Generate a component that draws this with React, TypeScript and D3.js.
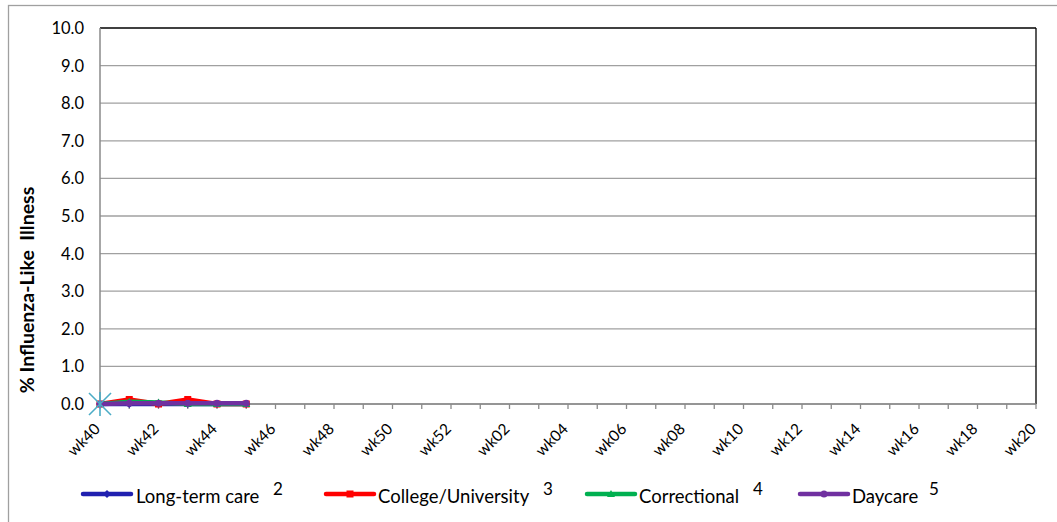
import * as React from "react";
import * as d3 from "d3";

// weeks on the x axis (wk40 .. wk52, wk01 .. wk20)
const weeks: string[] = [
  ...d3.range(40, 53).map((w) => `wk${w}`),
  ...d3.range(1, 21).map((w) => `wk${String(w).padStart(2, "0")}`),
];
const yTicks = [0, 1, 2, 3, 4, 5, 6, 7, 8, 9, 10];

const longTermCare = [0, 0, 0, 0, 0, 0];
const collegeUniversity = [0, 0.12, 0, 0.12, 0, 0];
const correctional = [0, 0.06, 0.04, 0, 0, 0];
const daycare = [0, 0.02, 0.02, 0.02, 0.02, 0.02];
const unlabeled = [0];

const series = [
  { name: "Long-term care", note: "2", color: "#2020B0", marker: "diamond", values: longTermCare },
  { name: "College/University", note: "3", color: "#FF0000", marker: "square", values: collegeUniversity },
  { name: "Correctional", note: "4", color: "#00B050", marker: "triangle", values: correctional },
  { name: "Daycare", note: "5", color: "#7030A0", marker: "circle", values: daycare },
];

const W = 1057;
const H = 522;
const PLOT = { left: 100, right: 1036, top: 28, bottom: 404 };
const FONT = "Lato, 'Open Sans', sans-serif";

function Marker({ type, x, y, color }: { type: string; x: number; y: number; color: string }) {
  if (type === "diamond")
    return <path d={`M${x},${y - 4}L${x + 4},${y}L${x},${y + 4}L${x - 4},${y}Z`} fill={color} />;
  if (type === "square") return <rect x={x - 3.5} y={y - 3.5} width={7} height={7} fill={color} />;
  if (type === "triangle")
    return <path d={`M${x},${y - 4}L${x + 4},${y + 3}L${x - 4},${y + 3}Z`} fill={color} />;
  return <circle cx={x} cy={y} r={3.5} fill={color} />;
}

export default function App() {
  const x = d3.scalePoint<string>().domain(weeks).range([PLOT.left, PLOT.right]);
  const y = d3.scaleLinear().domain([0, 10]).range([PLOT.bottom, PLOT.top]);
  const line = d3
    .line<number>()
    .x((_, i) => x(weeks[i])!)
    .y((v) => y(v));

  const legendItems = [
    { lx: 83, tx: 136, nx: 273 },
    { lx: 326, tx: 378, nx: 543 },
    { lx: 587, tx: 639, nx: 753 },
    { lx: 800, tx: 852, nx: 929 },
  ];
  const legendY = 494;

  return (
    <svg
      width={W}
      height={H}
      style={{ position: "absolute", left: 0, top: 0, fontFamily: FONT }}
    >
      <rect x={0} y={0} width={W} height={H} fill="#fff" />
      <rect x={8.5} y={5.5} width={W + 10} height={H + 10} fill="none" stroke="#A0A0A0" strokeWidth={1.3} />

      {/* gridlines */}
      {yTicks.map((t) => (
        <line
          key={`g-${t}`}
          x1={PLOT.left}
          x2={PLOT.right}
          y1={y(t)}
          y2={y(t)}
          stroke={t === 10 ? "#000" : "#A0A0A0"}
          strokeWidth={1.3}
        />
      ))}
      <line x1={PLOT.right} x2={PLOT.right} y1={PLOT.top} y2={PLOT.bottom} stroke="#000" strokeWidth={1.3} />
      <line x1={PLOT.left} x2={PLOT.left} y1={PLOT.top} y2={PLOT.bottom} stroke="#8A8A8A" strokeWidth={1.5} />
      <line x1={PLOT.left} x2={PLOT.right} y1={PLOT.bottom} y2={PLOT.bottom} stroke="#8A8A8A" strokeWidth={1.5} />

      {/* y tick labels */}
      {yTicks.map((t) => (
        <text
          key={`yl-${t}`}
          x={84}
          y={y(t)}
          dy="0.36em"
          textAnchor="end"
          fontSize={16.5}
          fill="#000"
        >
          {t.toFixed(1)}
        </text>
      ))}

      {/* x ticks and labels */}
      {weeks.map((w, i) => (
        <g key={w}>
          <line x1={x(w)} x2={x(w)} y1={PLOT.bottom} y2={PLOT.bottom + 5} stroke="#8A8A8A" strokeWidth={1.3} />
          {i % 2 === 0 && (
            <text
              transform={`translate(${x(w)! + 1},${PLOT.bottom + 26}) rotate(-45)`}
              textAnchor="end"
              fontSize={15.5}
              fill="#000"
            >
              {w}
            </text>
          )}
        </g>
      ))}

      {/* y axis title */}
      <text
        transform={`translate(34,290) rotate(-90)`}
        textAnchor="middle"
        fontSize={19.5}
        fontWeight="bold"
        fill="#000"
        style={{ whiteSpace: "pre" }}
      >
        {"% Influenza-Like  Illness"}
      </text>

      {/* series */}
      {series.map((s) => (
        <g key={s.name}>
          <path d={line(s.values) ?? ""} fill="none" stroke={s.color} strokeWidth={4.5} strokeLinejoin="round" />
          {s.values.map((v, i) => (
            <Marker key={i} type={s.marker} x={x(weeks[i])!} y={y(v)} color={s.color} />
          ))}
        </g>
      ))}
      {unlabeled.map((v, i) => {
        const cx = x(weeks[i])!;
        const cy = y(v);
        return (
          <g key={`u-${i}`} stroke="#4BACC6" strokeWidth={1.6}>
            <line x1={cx - 11} x2={cx + 11} y1={cy - 11} y2={cy + 11} />
            <line x1={cx - 11} x2={cx + 11} y1={cy + 11} y2={cy - 11} />
            <line x1={cx} x2={cx} y1={cy - 12} y2={cy + 12} />
          </g>
        );
      })}

      {/* legend */}
      {series.map((s, i) => {
        const it = legendItems[i];
        return (
          <g key={`lg-${s.name}`}>
            <line
              x1={it.lx}
              x2={it.lx + 48}
              y1={legendY}
              y2={legendY}
              stroke={s.color}
              strokeWidth={4.5}
              strokeLinecap="round"
            />
            <Marker type={s.marker} x={it.lx + 24} y={legendY} color={s.color} />
            <text x={it.tx} y={503} fontSize={18.5} fill="#000">
              {s.name}
            </text>
            <text x={it.nx} y={495} fontSize={17} fill="#000">
              {s.note}
            </text>
          </g>
        );
      })}
    </svg>
  );
}
